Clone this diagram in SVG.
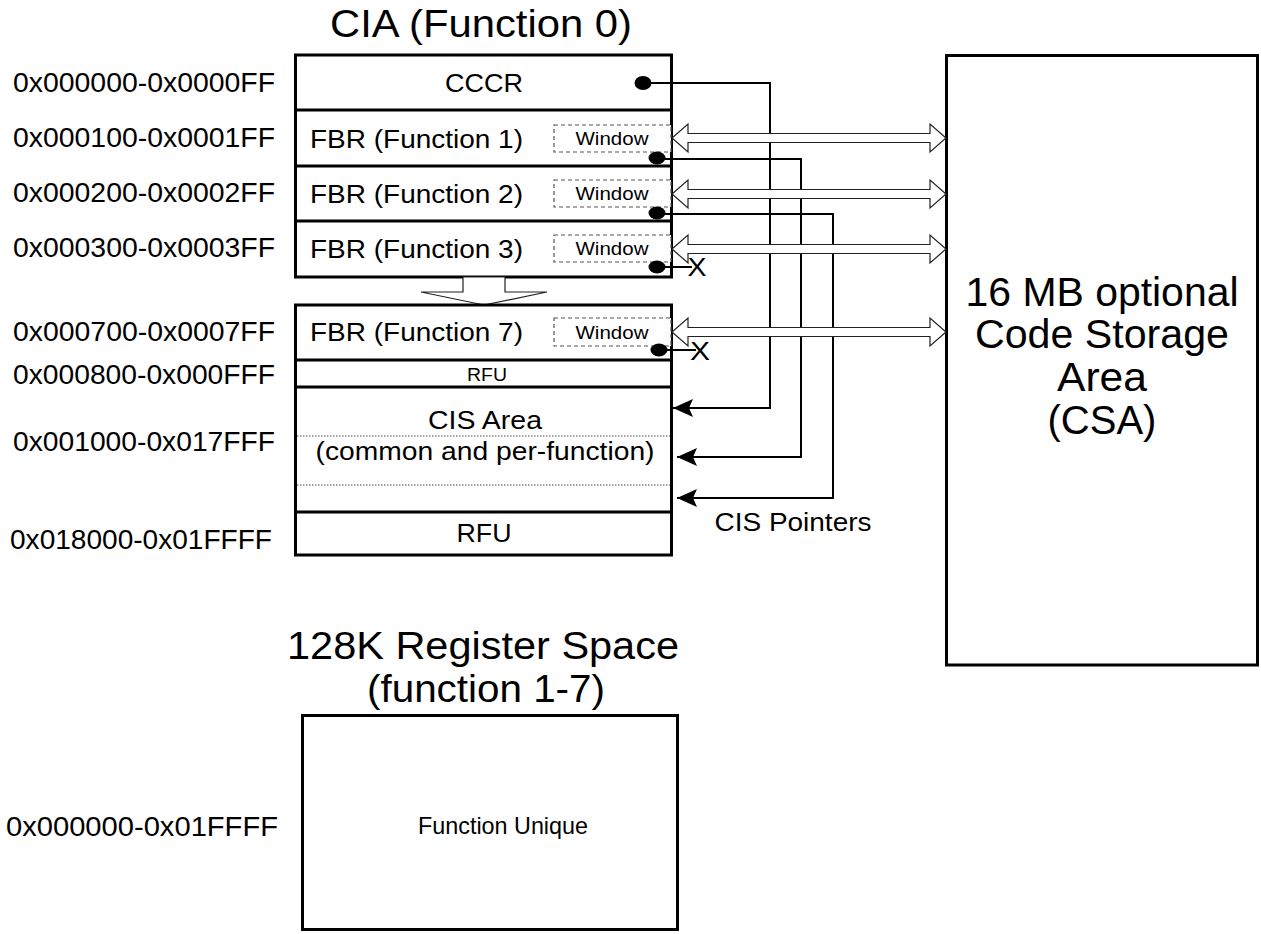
<svg xmlns="http://www.w3.org/2000/svg" width="1261" height="934" viewBox="0 0 1261 934">
<defs>
<style>
text{font-family:"Liberation Sans",Arial,sans-serif;fill:#000}
.box{fill:#fff;stroke:#000;stroke-width:3}
.div{stroke:#000;stroke-width:3}
.win{fill:#fff;stroke:#555;stroke-width:1.2;stroke-dasharray:4 3}
.dot{fill:#000}
.conn{fill:none;stroke:#000;stroke-width:2}
.hollow{fill:#fff;stroke:#222;stroke-width:1.2}
.dotted{stroke:#444;stroke-width:1;stroke-dasharray:1.5 1.5}
.lbl{font-size:27px}
.row{font-size:26px}
.win-t{font-size:18px}
</style>
<marker id="ah" viewBox="0 0 20 18" refX="20" refY="9" markerWidth="20" markerHeight="18" markerUnits="userSpaceOnUse" orient="auto">
<path d="M0,0 L20,9 L0,18 L4,9 z" fill="#000"/>
</marker>
</defs>
<rect width="1261" height="934" fill="#fff"/>

<g id="titles">
<text x="481" y="37" font-size="38" text-anchor="middle" textLength="302" lengthAdjust="spacingAndGlyphs">CIA (Function 0)</text>
<text x="483" y="659" font-size="38" text-anchor="middle" textLength="392" lengthAdjust="spacingAndGlyphs">128K Register Space</text>
<text x="486" y="702" font-size="38" text-anchor="middle" textLength="238" lengthAdjust="spacingAndGlyphs">(function 1-7)</text>
</g>

<g id="address-labels">
<text class="lbl" x="13" y="92" textLength="262" lengthAdjust="spacingAndGlyphs">0x000000-0x0000FF</text>
<text class="lbl" x="13" y="147" textLength="262" lengthAdjust="spacingAndGlyphs">0x000100-0x0001FF</text>
<text class="lbl" x="13" y="202" textLength="262" lengthAdjust="spacingAndGlyphs">0x000200-0x0002FF</text>
<text class="lbl" x="13" y="257" textLength="262" lengthAdjust="spacingAndGlyphs">0x000300-0x0003FF</text>
<text class="lbl" x="13" y="341" textLength="262" lengthAdjust="spacingAndGlyphs">0x000700-0x0007FF</text>
<text class="lbl" x="13" y="384" textLength="262" lengthAdjust="spacingAndGlyphs">0x000800-0x000FFF</text>
<text class="lbl" x="13" y="451" textLength="262" lengthAdjust="spacingAndGlyphs">0x001000-0x017FFF</text>
<text class="lbl" x="10" y="549" textLength="262" lengthAdjust="spacingAndGlyphs">0x018000-0x01FFFF</text>
<text class="lbl" x="6" y="836" textLength="272" lengthAdjust="spacingAndGlyphs">0x000000-0x01FFFF</text>
</g>

<g id="cia-upper">
<rect class="box" x="295.5" y="55" width="376" height="222"/>
<line class="div" x1="295.5" y1="110" x2="671.5" y2="110"/>
<line class="div" x1="295.5" y1="166" x2="671.5" y2="166"/>
<line class="div" x1="295.5" y1="221" x2="671.5" y2="221"/>
</g>

<g id="cccr">
<text x="484" y="92" font-size="25" text-anchor="middle" textLength="78" lengthAdjust="spacingAndGlyphs">CCCR</text>
<ellipse class="dot" cx="643" cy="83" rx="8.5" ry="7"/>
</g>

<g id="fbr1">
<text class="row" x="310" y="148" textLength="213" lengthAdjust="spacingAndGlyphs">FBR (Function 1)</text>
<rect class="win" x="554" y="125" width="117" height="27"/>
<text class="win-t" x="612" y="145" text-anchor="middle" textLength="73" lengthAdjust="spacingAndGlyphs">Window</text>
<ellipse class="dot" cx="657" cy="158" rx="8.5" ry="6.5"/>
</g>

<g id="fbr2">
<text class="row" x="310" y="203" textLength="213" lengthAdjust="spacingAndGlyphs">FBR (Function 2)</text>
<rect class="win" x="554" y="180" width="117" height="27"/>
<text class="win-t" x="612" y="200" text-anchor="middle" textLength="73" lengthAdjust="spacingAndGlyphs">Window</text>
<ellipse class="dot" cx="657" cy="213" rx="8.5" ry="6.5"/>
</g>

<g id="fbr3">
<text class="row" x="310" y="258" textLength="213" lengthAdjust="spacingAndGlyphs">FBR (Function 3)</text>
<rect class="win" x="554" y="235" width="117" height="27"/>
<text class="win-t" x="612" y="255" text-anchor="middle" textLength="73" lengthAdjust="spacingAndGlyphs">Window</text>
<ellipse class="dot" cx="657" cy="267" rx="8.5" ry="6.5"/>
</g>

<g id="ellipsis-arrow">
<polygon class="hollow" points="463,277 463,292 421,292 484,305 547,292 505,292 505,277"/>
</g>

<g id="cia-lower">
<rect class="box" x="295.5" y="305" width="376" height="250"/>
<line class="div" x1="295.5" y1="360" x2="671.5" y2="360"/>
<line class="div" x1="295.5" y1="387" x2="671.5" y2="387"/>
<line class="div" x1="295.5" y1="512" x2="671.5" y2="512"/>
</g>

<g id="fbr7">
<text class="row" x="310" y="341" textLength="213" lengthAdjust="spacingAndGlyphs">FBR (Function 7)</text>
<rect class="win" x="554" y="318" width="117" height="28"/>
<text class="win-t" x="612" y="339" text-anchor="middle" textLength="73" lengthAdjust="spacingAndGlyphs">Window</text>
<ellipse class="dot" cx="659" cy="350" rx="8.5" ry="6.5"/>
</g>

<g id="rfu-small">
<text x="487" y="381" font-size="18" text-anchor="middle" textLength="40" lengthAdjust="spacingAndGlyphs">RFU</text>
</g>

<g id="cis-area">
<line class="dotted" x1="297" y1="436" x2="670" y2="436"/>
<line class="dotted" x1="297" y1="485" x2="670" y2="485"/>
<text x="485" y="429" font-size="26" text-anchor="middle" textLength="114" lengthAdjust="spacingAndGlyphs">CIS Area</text>
<text x="485" y="460" font-size="26" text-anchor="middle" textLength="339" lengthAdjust="spacingAndGlyphs">(common and per-function)</text>
</g>

<g id="rfu-large">
<text x="484" y="542" font-size="26" text-anchor="middle" textLength="55" lengthAdjust="spacingAndGlyphs">RFU</text>
</g>

<g id="csa">
<rect class="box" x="946.5" y="55.5" width="311" height="609.5"/>
<text x="1102" y="306" font-size="40" text-anchor="middle" textLength="273" lengthAdjust="spacingAndGlyphs">16 MB optional</text>
<text x="1102" y="348" font-size="40" text-anchor="middle" textLength="254" lengthAdjust="spacingAndGlyphs">Code Storage</text>
<text x="1102" y="391" font-size="40" text-anchor="middle" textLength="90" lengthAdjust="spacingAndGlyphs">Area</text>
<text x="1102" y="434" font-size="40" text-anchor="middle">(CSA)</text>
</g>

<g id="function-space">
<rect class="box" x="302.5" y="715.5" width="375" height="214"/>
<text x="503" y="834" font-size="24" text-anchor="middle" textLength="170" lengthAdjust="spacingAndGlyphs">Function Unique</text>
</g>

<g id="connectors">
<polyline class="conn" points="643,83 770,83 770,408 673,408" marker-end="url(#ah)"/>
<polyline class="conn" points="657,159 801,159 801,457 677,457" marker-end="url(#ah)"/>
<polyline class="conn" points="657,214 833,214 833,498 677,498" marker-end="url(#ah)"/>
<line class="conn" x1="657" y1="267" x2="692" y2="267"/>
<line class="conn" x1="659" y1="350" x2="696" y2="350"/>
<text x="697" y="276" font-size="26" text-anchor="middle" textLength="19" lengthAdjust="spacingAndGlyphs">X</text>
<text x="700" y="360" font-size="26" text-anchor="middle" textLength="20" lengthAdjust="spacingAndGlyphs">X</text>
<text x="793" y="531" font-size="25" text-anchor="middle" textLength="157" lengthAdjust="spacingAndGlyphs">CIS Pointers</text>
<polygon class="hollow" points="672,138 688,124 688,133.5 930,133.5 930,124 946,138 930,152 930,142.5 688,142.5 688,152"/>
<polygon class="hollow" points="672,194 688,180 688,189.5 930,189.5 930,180 946,194 930,208 930,198.5 688,198.5 688,208"/>
<polygon class="hollow" points="672,249 688,235 688,244.5 930,244.5 930,235 946,249 930,263 930,253.5 688,253.5 688,263"/>
<polygon class="hollow" points="672,332 688,318 688,327.5 930,327.5 930,318 946,332 930,346 930,336.5 688,336.5 688,346"/>
</g>
</svg>
